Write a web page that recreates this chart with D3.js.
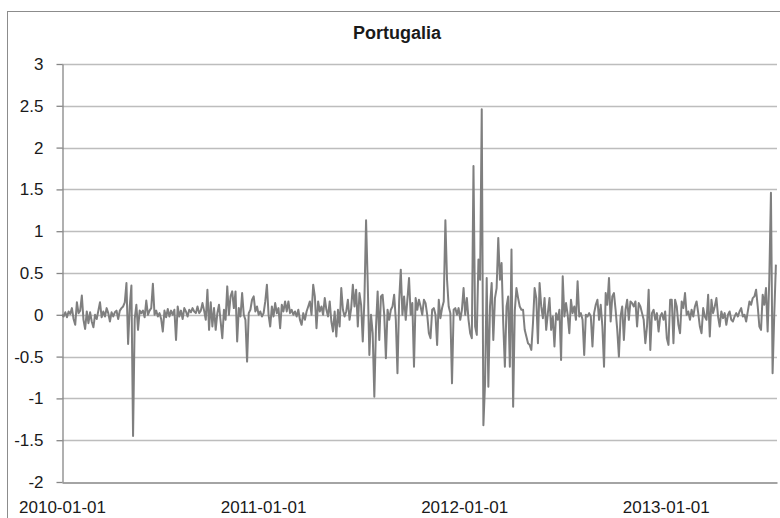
<!DOCTYPE html>
<html>
<head>
<meta charset="utf-8">
<script src="https://cdn.jsdelivr.net/npm/d3@7"></script>
<style>
    body { margin: 0; background: #fff; }
    text { font-family: "Liberation Sans", Arial, sans-serif; }
</style>
</head>
<body>
<div id="chart"></div>
<script>
// series starts on 2010-01-01, one reading every 3 days
var startDate = "2010-01-01";
var stepDays = 3;

var values2010 = [0.0, -0.02, 0.03, -0.03, 0.04, 0.01, 0.08, -0.05, -0.12, 0.15,
    0.02, 0.05, 0.23, -0.06, -0.17, 0.04, -0.1, 0.03, -0.08, -0.15,
    0.0, -0.05, 0.05, 0.15, -0.03, 0.04, -0.02, 0.08, 0.02, -0.08,
    0.03, -0.02, 0.03, 0.05, -0.05, 0.05, 0.08, 0.1, 0.15, 0.38,
    -0.35, 0.1, 0.35, -1.45, -0.05, 0.12, -0.18, 0.05, 0.02, 0.05,
    -0.03, 0.17, 0.0, 0.05, 0.08, 0.37, 0.0, 0.05, -0.02, 0.02,
    -0.05, -0.2, 0.05, -0.03, 0.07, -0.02, 0.05, 0.0, 0.06, -0.3,
    0.1, -0.02, 0.05, -0.05, 0.08, 0.04, -0.02, 0.06, 0.03, 0.08,
    0.04, 0.02, 0.1, 0.02, 0.05, 0.14, 0.05, -0.06, 0.3, -0.18,
    0.15, -0.14, 0.08, -0.18, 0.02, 0.12, -0.08, -0.28, 0.06, -0.06,
    0.34, 0.0, 0.22, 0.28, 0.08, 0.28, -0.32, 0.08, -0.02, 0.26,
    0.0, -0.06, -0.56, 0.02, 0.06, 0.18, 0.22, 0.04, 0.1, 0.0,
    0.04, -0.02];

var values2011 = [0.02, 0.16, 0.36, 0.0, -0.14, 0.1, -0.02, 0.14, 0.02, 0.08,
    -0.16, 0.12, 0.04, 0.16, 0.04, 0.16, 0.02, 0.06, 0.0, 0.04,
    -0.02, 0.06, -0.06, -0.12, 0.02, -0.06, 0.04, 0.1, 0.16, 0.0,
    0.36, 0.22, -0.16, 0.16, 0.04, 0.1, 0.0, 0.2, 0.06, -0.02,
    0.16, -0.08, -0.2, 0.04, -0.26, 0.06, -0.14, 0.32, 0.06, -0.02,
    0.04, 0.18, -0.06, 0.08, 0.36, 0.1, 0.3, -0.14, 0.26, 0.12,
    -0.32, 0.18, 1.13, 0.38, -0.48, 0.0, -0.22, -0.98, -0.15, 0.28,
    -0.3, 0.22, 0.24, 0.0, -0.52, 0.06, -0.06, 0.06, 0.1, 0.24,
    -0.06, -0.7, 0.16, 0.54, 0.0, 0.22, -0.06, 0.18, 0.44, 0.0,
    0.14, -0.62, 0.2, 0.06, 0.18, 0.1, 0.0, 0.18, 0.14, 0.0,
    -0.22, -0.28, 0.06, 0.08, 0.0, -0.36, 0.18, -0.04, 0.08, 0.16,
    1.13, 0.42, 0.1, 0.02, -0.82, 0.06, 0.08, 0.0, 0.08, -0.06,
    0.06, 0.32];

var values2012 = [0.0, 0.2, -0.06, -0.22, -0.28, 1.78, -0.14, -0.24, 0.66, 0.42,
    2.46, -1.32, -0.82, 0.44, -0.86, 0.1, 0.38, -0.3, 0.2, 0.32,
    0.92, 0.42, 0.62, -0.1, -0.62, 0.1, 0.22, -0.62, 0.78, -1.1,
    0.05, 0.32, 0.2, 0.1, 0.06, 0.06, -0.18, -0.26, -0.34, -0.36,
    -0.42, -0.1, 0.32, 0.2, -0.34, 0.38, 0.1, -0.04, 0.2, -0.18,
    0.02, 0.2, -0.18, -0.02, -0.38, 0.02, -0.06, 0.06, -0.54, 0.46,
    -0.02, 0.14, 0.0, -0.22, 0.18, 0.02, 0.1, -0.06, 0.4, -0.02,
    0.02, -0.06, -0.48, 0.0, -0.02, 0.02, -0.02, -0.38, 0.02, 0.12,
    0.18, -0.06, 0.12, -0.14, -0.62, 0.26, 0.12, 0.44, -0.08, 0.22,
    0.26, 0.06, -0.18, -0.5, -0.02, 0.1, -0.3, 0.06, 0.18, -0.06,
    0.16, 0.14, 0.1, 0.16, -0.14, 0.14, 0.1, 0.02, -0.06, -0.34,
    -0.14, 0.3, -0.42, 0.02, 0.06, -0.06, 0.02, -0.2, -0.02, 0.02,
    -0.06, 0.04];

var values2013 = [-0.28, -0.36, 0.18, 0.18, -0.34, 0.18, 0.1, -0.12, -0.22, 0.16,
    0.08, 0.26, 0.0, 0.04, -0.06, 0.06, -0.02, 0.1, 0.16, 0.02,
    -0.14, -0.22, 0.08, -0.02, -0.06, 0.24, -0.26, 0.18, 0.02, 0.1,
    0.2, -0.02, -0.14, 0.04, -0.04, 0.02, -0.12, 0.0, 0.04, -0.06,
    -0.08, -0.02, 0.02, -0.02, 0.04, 0.08, -0.02, 0.0, -0.08, 0.04,
    0.16, 0.12, 0.2, 0.22, 0.3, 0.1, -0.14, -0.18, 0.24, 0.12,
    0.32, -0.2, 0.42, 1.46, -0.7, 0.0, 0.6];

var yTicks = [-2, -1.5, -1, -0.5, 0, 0.5, 1, 1.5, 2, 2.5, 3];
var xTickLabels = ["2010-01-01", "2011-01-01", "2012-01-01", "2013-01-01"];
var endDate = "2013-07-22";
var title = "Portugalia";

var parseDate = d3.timeParse("%Y-%m-%d");
var fmt = d3.timeFormat("%Y-%m-%d");

var allValues = values2010.concat(values2011, values2012, values2013);
var start = parseDate(startDate);
var data = allValues.map(function (v, i) {
    return {date: d3.timeDay.offset(start, i * stepDays), value: v};
});

var width = 780, height = 518;
var plot = {left: 62, right: 777, top: 64, bottom: 482};

var svg = d3.select("#chart").append("svg")
    .attr("width", width)
    .attr("height", height);

// chart area border
svg.append("rect")
    .attr("x", 7.5)
    .attr("y", 11.5)
    .attr("width", 790)
    .attr("height", 520)
    .attr("fill", "#fff")
    .attr("stroke", "#8c8c8c")
    .attr("stroke-width", 1);

var x = d3.scaleTime()
    .domain([start, parseDate(endDate)])
    .range([plot.left, plot.right]);

var y = d3.scaleLinear()
    .domain([-2, 3])
    .range([plot.bottom, plot.top]);

// gridlines
svg.selectAll(".grid")
    .data(yTicks.filter(function (d) { return d > -2; }))
    .enter().append("line")
    .attr("class", "grid")
    .attr("x1", plot.left)
    .attr("x2", plot.right)
    .attr("y1", function (d) { return Math.round(y(d)) + 0.5; })
    .attr("y2", function (d) { return Math.round(y(d)) + 0.5; })
    .attr("stroke", "#bdbdbd")
    .attr("stroke-width", 1.3);

// y axis
var yAxis = svg.append("g")
    .attr("transform", "translate(" + (plot.left + 0.5) + ",0)")
    .call(d3.axisLeft(y).tickValues(yTicks).tickSize(6).tickSizeOuter(0).tickPadding(13)
        .tickFormat(function (d) { return String(d); }));
yAxis.selectAll("path, line").attr("stroke", "#868686").attr("stroke-width", 1.3);
yAxis.selectAll("text")
    .attr("fill", "#1a1a1a")
    .style("font-size", "17px")
    .style("font-family", "Liberation Sans, Arial, sans-serif");

// x axis at the bottom of the value range
var xAxis = svg.append("g")
    .attr("transform", "translate(0," + (Math.round(y(-2)) + 0.5) + ")")
    .call(d3.axisBottom(x)
        .tickValues(xTickLabels.map(parseDate))
        .tickSize(0)
        .tickSizeOuter(0)
        .tickPadding(18)
        .tickFormat(fmt));
xAxis.select(".domain").attr("stroke", "#868686").attr("stroke-width", 1.3);
xAxis.selectAll("text")
    .attr("fill", "#1a1a1a")
    .style("font-size", "17px")
    .style("font-family", "Liberation Sans, Arial, sans-serif");

// the series
var line = d3.line()
    .x(function (d) { return x(d.date); })
    .y(function (d) { return y(d.value); });

svg.append("path")
    .datum(data)
    .attr("fill", "none")
    .attr("stroke", "#7f7f7f")
    .attr("stroke-width", 2)
    .attr("stroke-linejoin", "round")
    .attr("d", line);

// title
svg.append("text")
    .attr("x", 397)
    .attr("y", 39)
    .attr("text-anchor", "middle")
    .attr("font-weight", "bold")
    .style("font-size", "18px")
    .attr("fill", "#1a1a1a")
    .text(title);
</script>
</body>
</html>
